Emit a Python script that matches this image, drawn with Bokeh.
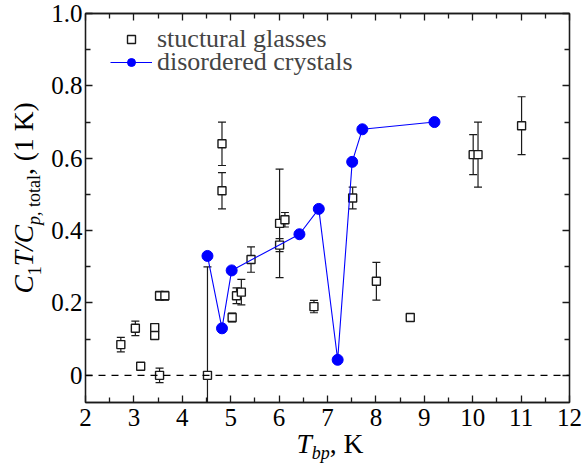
from bokeh.plotting import figure
from bokeh.layouts import row, column
from bokeh.models import (ColumnDataSource, Span, Label, Legend, LegendItem,
                          LinearAxis, FixedTicker, Range1d)
from bokeh.embed import file_html
from bokeh.resources import INLINE

# ---------------- data ----------------
glass_T = [2.73, 3.03, 3.14, 3.43, 3.43, 3.53, 3.53, 3.64, 4.52, 4.82, 4.82,
           5.03, 5.12, 5.22, 5.42, 6.01, 6.01, 6.12, 6.72, 7.52, 8.01, 8.71,
           10.01, 10.11, 11.01]
glass_ratio = [0.085, 0.13, 0.025, 0.132, 0.11, 0.0, 0.22, 0.22, 0.0, 0.64, 0.51,
               0.16, 0.22, 0.23, 0.32, 0.42, 0.36, 0.43, 0.19, 0.49, 0.26, 0.16,
               0.61, 0.61, 0.69]
glass_err = [0.02, 0.02, 0.008, 0.01, 0.01, 0.02, 0.012, 0.012, 0.30, 0.06, 0.05,
             0.012, 0.022, 0.035, 0.035, 0.15, 0.018, 0.02, 0.017, 0.03, 0.052, 0.01,
             0.055, 0.09, 0.08]

crystal_T = [4.52, 4.82, 5.02, 6.42, 6.82, 7.21, 7.51, 7.72, 9.21]
crystal_ratio = [0.33, 0.13, 0.29, 0.39, 0.46, 0.043, 0.59, 0.68, 0.70]

x_ticks = [2, 3, 4, 5, 6, 7, 8, 9, 10, 11, 12]
x_minor = [2.5, 3.5, 4.5, 5.5, 6.5, 7.5, 8.5, 9.5, 10.5, 11.5]
y_ticks = [0, 0.2, 0.4, 0.6, 0.8, 1.0]
y_tick_labels = ["0", "0.2", "0.4", "0.6", "0.8", "1.0"]
y_minor = [0.1, 0.3, 0.5, 0.7, 0.9]

legend_labels = ["stuctural glasses", "disordered crystals"]

FONT = "Liberation Serif"
BLUE = "#0000FF"
INK = "#1a1a1a"

# layout (pixels of the 584 x 466 picture)
W, H = 584, 466
YT_W = 45            # strip holding the y-axis title
MAIN_H = 434         # main plot height; the rest holds the x-axis title
FRAME_L, FRAME_R = 85, 569   # picture columns of the plot frame

# ---------------- main figure ----------------
p = figure(width=W - YT_W, height=MAIN_H, x_range=Range1d(2, 12),
           y_range=Range1d(-0.075, 1.0),
           output_backend="svg", toolbar_location=None,
           min_border_left=FRAME_L - YT_W, min_border_right=W - FRAME_R,
           min_border_top=13, min_border_bottom=32)
p.xgrid.visible = False
p.ygrid.visible = False
p.outline_line_color = INK
p.outline_line_width = 1.3


def style_axis(ax, ticks, minor, labels=None):
    ax.ticker = FixedTicker(ticks=ticks, minor_ticks=minor)
    ax.axis_line_color = INK
    ax.axis_line_width = 1.3
    ax.major_tick_in = 7
    ax.major_tick_out = 0
    ax.minor_tick_in = 5
    ax.minor_tick_out = 0
    ax.major_tick_line_color = INK
    ax.minor_tick_line_color = INK
    ax.major_tick_line_width = 1.3
    ax.minor_tick_line_width = 1.3
    ax.axis_label = None
    ax.axis_label_standoff = 0
    if labels is None:
        ax.major_label_overrides = {t: "" for t in ticks}
        ax.major_label_text_font_size = "1px"
        ax.major_label_standoff = 0
    else:
        ax.major_label_text_font = FONT
        ax.major_label_text_font_size = "25px"
        ax.major_label_text_color = "black"
        if labels:
            ax.major_label_overrides = dict(zip(ticks, labels))


style_axis(p.xaxis[0], x_ticks, x_minor, labels=[])
p.xaxis[0].major_label_standoff = 6
style_axis(p.yaxis[0], y_ticks, y_minor, labels=y_tick_labels)
p.yaxis[0].major_label_standoff = 3

top_ax = LinearAxis()
style_axis(top_ax, x_ticks, x_minor)
p.add_layout(top_ax, "above")
right_ax = LinearAxis()
style_axis(right_ax, y_ticks, y_minor)
p.add_layout(right_ax, "right")

# zero line
p.add_layout(Span(location=0, dimension="width", line_color="black",
                  line_width=1.3, line_dash="7 6"))

# ---------------- structural glasses ----------------
src = ColumnDataSource(dict(
    x=glass_T, y=glass_ratio,
    upper=[v + e for v, e in zip(glass_ratio, glass_err)],
    lower=[v - e for v, e in zip(glass_ratio, glass_err)],
))
p.segment(x0="x", y0="lower", x1="x", y1="upper", source=src,
          line_color=INK, line_width=1.2)
p.scatter(x="x", y="upper", source=src, marker="dash", size=8,
          line_color=INK, line_width=1.2)
p.scatter(x="x", y="lower", source=src, marker="dash", size=8,
          line_color=INK, line_width=1.2)
sq = p.scatter(x="x", y="y", source=src, marker="square", size=8,
               fill_color="white", line_color=INK, line_width=1.4)

# ---------------- disordered crystals ----------------
bl = p.line(crystal_T, crystal_ratio, line_color=BLUE, line_width=1.1)
bc = p.scatter(crystal_T, crystal_ratio, marker="circle", size=11,
               fill_color=BLUE, line_color=BLUE)

legend_style = dict(padding=0, margin=0, glyph_width=42, glyph_height=20,
                    label_height=20, label_standoff=5, label_text_font=FONT,
                    label_text_font_size="26px", border_line_color=None,
                    background_fill_alpha=0)
p.add_layout(Legend(items=[LegendItem(label=legend_labels[0], renderers=[sq])],
                    location=(25, 348), **legend_style))
p.add_layout(Legend(items=[LegendItem(label=legend_labels[1], renderers=[bl, bc])],
                    location=(25, 325), **legend_style))

# ---------------- axis titles (mixed italic / subscript text) ----------------
MID = 0.34   # Bokeh anchors these labels at the middle of the text box


def piece(fig, txt, x, y, size, italic, angle=0.0):
    fig.add_layout(Label(x=x, y=y, text=txt, angle=angle,
                         text_font=FONT, text_font_size=f"{size}px",
                         text_font_style="italic" if italic else "normal",
                         text_color="black", text_align="left",
                         text_baseline="middle"))


def blank_fig(w, h, xr, yr):
    f = figure(width=w, height=h, x_range=Range1d(*xr), y_range=Range1d(*yr),
               output_backend="svg", toolbar_location=None, min_border=0,
               x_axis_type=None, y_axis_type=None)
    f.outline_line_color = None
    return f


MAIN_F, SUB_F = 27.5, 18

# y title strip: coordinates equal picture pixels
yfig = blank_fig(YT_W, H, (0, YT_W), (H, 0))
ang = 1.5707963267948966
# (text, size, italic, subscript, advance in em incl. following space)
y_pieces = [("C", MAIN_F, True, False, 0.667), ("1", SUB_F, False, True, 0.5),
            ("T", MAIN_F, True, False, 0.556), ("/", MAIN_F, True, False, 0.278),
            ("C", MAIN_F, True, False, 0.667), ("p,", SUB_F, True, True, 1.0),
            ("total", SUB_F, False, True, 1.778),
            (", (1 K)", MAIN_F, False, False, 2.638)]
pos = 293.0
for txt, size, ital, sub, adv in y_pieces:
    base = 40 if sub else 32
    piece(yfig, txt, base - MID * size, pos, size, ital, angle=ang)
    pos -= adv * size

# x title strip: its frame is aligned with the main frame (columns 85..569)
xfig = blank_fig(W - YT_W, H - MAIN_H, (FRAME_L, FRAME_R), (H, MAIN_H))
tx = 296
piece(xfig, "T", tx, 452.5 - MID * MAIN_F, MAIN_F, True)
piece(xfig, "bp", tx + 0.556 * MAIN_F, 458.5 - MID * SUB_F, SUB_F, True)
piece(xfig, ", K", tx + 0.556 * MAIN_F + 1.0 * SUB_F, 452.5 - MID * MAIN_F,
      MAIN_F, False)

layout = row(yfig, column(p, xfig, spacing=0), spacing=0)
open("out.html", "w").write(file_html(layout, INLINE))
